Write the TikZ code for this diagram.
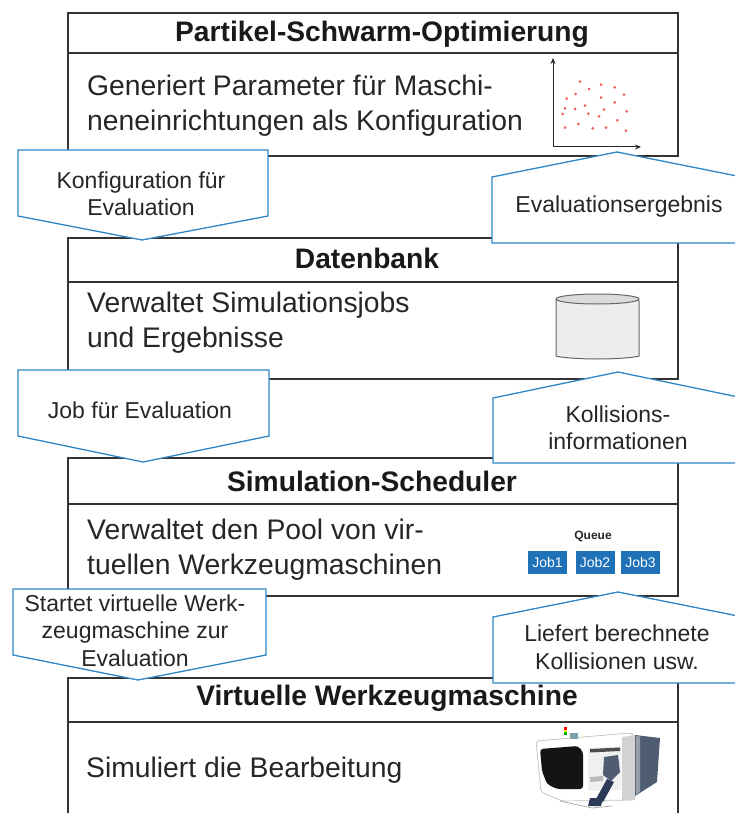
\documentclass[tikz,border=0pt]{standalone}
\usepackage{fontspec}
\setmainfont{Liberation Sans}
\usetikzlibrary{arrows.meta}
\definecolor{calloutblue}{HTML}{2F86C6}
\definecolor{jobblue}{HTML}{1F72B8}
\definecolor{dotred}{HTML}{F25C5C}
\definecolor{panelslate}{HTML}{4E5D70}
\definecolor{armnavy}{HTML}{2E3B57}
\begin{document}
\begin{tikzpicture}[x=1pt,y=-1pt,
  frame/.style={draw=black!80, line width=1.7pt, inner sep=0pt, anchor=north west, minimum width=610pt},
  hdrline/.style={draw=black!80, line width=1.7pt},
  hdr/.style={font=\fontsize{28.2}{32}\selectfont\bfseries, text=black!90, inner sep=0pt},
  body/.style={font=\fontsize{28.3}{35}\selectfont, text=black!85, align=left, anchor=west, inner sep=0pt},
  callout/.style={draw=calloutblue, fill=white, line width=1.3pt, line join=miter},
  ctext/.style={font=\fontsize{23}{27.5}\selectfont, text=black!85, align=center, inner sep=0pt},
  jobbox/.style={fill=jobblue, text=white, font=\fontsize{14}{16}\selectfont, minimum width=39pt, minimum height=23pt, inner sep=0pt},
  dot/.style={fill=dotred, draw=none},
]
\useasboundingbox (0,0) rectangle (735,813);

% ---- the four stages ----
\node[frame, minimum height=143pt] (pso) at (67,12) {};
\draw[hdrline] (67,53) -- (677,53);
\node[hdr] (psoh) at (382,34) {Partikel-Schwarm-Optimierung};
\node[body] (psob) at (87,105.5) {Generiert Parameter für Maschi-\\neneinrichtungen als Konfiguration};

\node[frame, minimum height=141pt] (db) at (67,237) {};
\draw[hdrline] (67,282) -- (677,282);
\node[hdr] (dbh) at (367,258) {Datenbank};
\node[body] (dbb) at (87,323) {Verwaltet Simulationsjobs\\und Ergebnisse};

\node[frame, minimum height=138pt] (sched) at (67,457) {};
\draw[hdrline] (67,504) -- (677,504);
\node[hdr] (schedh) at (372,481) {Simulation-Scheduler};
\node[body] (schedb) at (87,550) {Verwaltet den Pool von vir-\\tuellen Werkzeugmaschinen};

\node[frame, minimum height=170pt] (vm) at (67,677) {};
\draw[hdrline] (67,722) -- (677,722);
\node[hdr] (vmh) at (387,698) {Virtuelle Werkzeugmaschine};
\node[body] (vmb) at (86,770) {Simuliert die Bearbeitung};

% ---- scatter plot of particles ----
\coordinate (org) at (553,147);
\coordinate (yend) at (553,58);
\coordinate (xend) at (641,147);
\draw[line width=1pt, black!85, -{Stealth[length=6pt,width=5pt]}] (org) -- (yend);
\draw[line width=1pt, black!85, -{Stealth[length=6pt,width=5pt]}] (org) -- (xend);
\foreach \px/\py in {580/81.7,601/84.7,614.7/87.3,589/89,575.7/94,624/94.7,566.7/98.7,601/97.7,
  614.7/102.3,585/105.7,565/108.3,575/109,604/109.7,626.7/111.3,562.7/114,588.3/113.7,
  599/116.3,617.3/120.3,578.3/124,606/127.7,592.7/128.3,565/127.7,626/130.7}
  \fill[dot] (\px,\py) circle[radius=1.5pt];

% ---- database cylinder ----
\filldraw[fill=gray!14, draw=black!60, line width=1pt, rounded corners=2pt]
  (556,299) -- (556,354) arc[start angle=180, end angle=360, x radius=41.5pt, y radius=5pt] -- (639,299) -- cycle;
\filldraw[fill=gray!28, draw=black!60, line width=1pt]
  (597.5,299) ellipse[x radius=41.5pt, y radius=5pt];

% ---- job queue ----
\node[font=\fontsize{12}{14}\selectfont\bfseries, text=black!85, inner sep=0pt] (queue) at (593,536) {Queue};
\node[jobbox] (job1) at (547.5,562) {Job1};
\node[jobbox] (job2) at (595,562) {Job2};
\node[jobbox] (job3) at (640.5,562) {Job3};

% ---- machine tool sketch ----
\filldraw[fill=white, draw=black!25, line width=0.7pt, rounded corners=3pt]
  (536,741) -- (630,733) -- (635,735) -- (635,800) -- (562,801) -- (541,792) -- cycle;
\fill[panelslate] (635,735) -- (660,738) -- (657,782) -- (635,796) -- cycle;
\fill[panelslate!60] (636,736) -- (640,736.5) -- (640,792) -- (636,794.5) -- cycle;
\fill[gray!35] (622,737) -- (635,735) -- (635,800) -- (622,800) -- cycle;
\fill[black!92, rounded corners=3pt] (540,749) -- (578,746) -- (583,752) -- (583,789) -- (557,789) -- (547,784) -- (542,771) -- cycle;
\fill[gray!12] (588,748) -- (621,746) -- (621,790) -- (588,791) -- cycle;
\fill[black!70] (590,749) -- (620,747.5) -- (620,751) -- (590,752.5) -- cycle;
\fill[panelslate] (604,757) -- (618,755) -- (620,772) -- (611,781) -- (603,775) -- cycle;
\fill[gray!55] (590,777) -- (603,776) -- (603,781) -- (590,782) -- cycle;
\fill[armnavy] (607,779) -- (614,782) -- (603,802) -- (596,799) -- cycle;
\fill[armnavy] (590,798) -- (603,798) -- (601,806) -- (588,806) -- cycle;
\draw[gray!70, line width=0.7pt] (560,801) -- (592,808) -- (612,806);
\fill[red] (564,727) rectangle (567,729.5);
\fill[yellow!90!orange] (564,729.5) rectangle (567,732);
\fill[green!70!black] (564,732) rectangle (567,734.5);
\fill[cyan!30!gray] (570,733) rectangle (578,739);

% ---- data flow callouts ----
\draw[callout] (18,150) -- (268,150) -- (268,216) -- (142,240) -- (18,216) -- cycle;
\node[ctext] (c1) at (141,194) {Konfiguration für\\Evaluation};

\draw[callout] (617,152) -- (742,177) -- (742,243) -- (492,243) -- (492,177) -- cycle;
\node[ctext] (c2) at (619,207) {Evaluationsergebnis};

\draw[callout] (18,370) -- (269,370) -- (269,436) -- (143,462) -- (18,436) -- cycle;
\node[ctext] (c3) at (140,410) {Job für Evaluation};

\draw[callout] (618,372) -- (743,398) -- (743,463) -- (493,463) -- (493,398) -- cycle;
\node[ctext] (c4) at (618,428) {Kollisions-\\informationen};

\draw[callout] (13,589) -- (266,589) -- (266,655) -- (138,680) -- (13,655) -- cycle;
\node[ctext] (c5) at (135,630.5) {Startet virtuelle Werk-\\zeugmaschine zur\\Evaluation};

\draw[callout] (618,592) -- (743,617) -- (743,683) -- (493,683) -- (493,617) -- cycle;
\node[ctext] (c6) at (617,647.5) {Liefert berechnete\\Kollisionen usw.};

\end{tikzpicture}
\end{document}
